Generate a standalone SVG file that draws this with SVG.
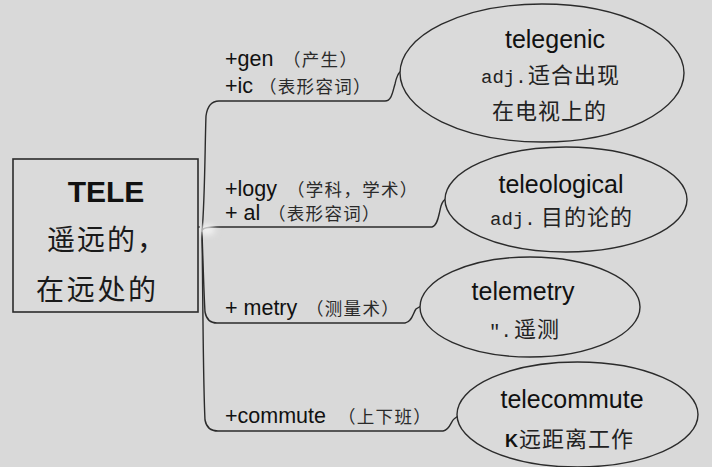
<svg xmlns="http://www.w3.org/2000/svg" width="712" height="467" viewBox="0 0 712 467">
  <style>
    .bg { fill: #d9d9d9; }
    .box { fill: #dadada; stroke: #2b2b2b; stroke-width: 1.6; }
    .ell { fill: #dadada; stroke: #2b2b2b; stroke-width: 1.4; }
    .con { fill: none; stroke: #2b2b2b; stroke-width: 1.4; }
    .en { font-family: "Liberation Sans", Arial, sans-serif; font-size: 21.5px; fill: #111; }
    .paren { font-family: "Noto Sans CJK SC", sans-serif; font-size: 17.5px; letter-spacing: 1.3px; fill: #2a2a2a; }
    .word { font-family: "Liberation Sans", Arial, sans-serif; font-size: 25px; fill: #111; text-anchor: middle; }
    .mono { font-family: "Liberation Mono", "Courier New", monospace; font-size: 19px; fill: #222; }
    .cn { font-family: "Noto Sans CJK SC", sans-serif; font-size: 22px; letter-spacing: 1px; fill: #222; }
    .big { font-family: "Noto Sans CJK SC", sans-serif; font-size: 28px; fill: #1a1a1a; }
  </style>
  <defs>
    <filter id="blur" x="-50%" y="-50%" width="200%" height="200%">
      <feGaussianBlur stdDeviation="3"/>
    </filter>
  </defs>
  <rect class="bg" x="0" y="0" width="712" height="467"/>

  <g id="connectors">
    <path class="con" d="M202,232 C205,200 205,140 206,116 Q208,101 219,101 H385 C392,101 393,90 395,84 Q397,74 401,71"/>
    <path class="con" d="M202,230 Q205,227 216,227 H432 C438,226 439,213 441,206 Q443,200 446,199"/>
    <path class="con" d="M202,232 C203,262 204,296 205,312 Q207,323 217,323 H405 C412,322 413,313 416,309 L421,306"/>
    <path class="con" d="M202,232 C203,300 203,380 205,420 Q207,431 218,431 H443 C450,430 451,421 454,419 L458,416"/>
    <path class="con" d="M200,227 H194 V253"/>
    <ellipse cx="207" cy="230" rx="8" ry="5" fill="#f4f4f4" filter="url(#blur)"/>
  </g>

  <g id="node-tele">
    <rect class="box" x="13" y="159" width="185" height="153"/>
    <text x="106" y="202" font-family="Liberation Sans, Arial, sans-serif" font-size="30" font-weight="bold" fill="#111" text-anchor="middle">TELE</text>
    <text class="big" x="47" y="250" letter-spacing="2">遥远的，</text>
    <text class="big" x="36" y="300" letter-spacing="2.7">在远处的</text>
  </g>

  <g id="label-gen-ic">
    <text class="en" x="225" y="66">+gen</text>
    <text class="paren" x="283" y="66">（产生）</text>
    <text class="en" x="225" y="93">+ic</text>
    <text class="paren" x="259" y="93">（表形容词）</text>
  </g>
  <g id="label-logy-al">
    <text class="en" x="225" y="196">+logy</text>
    <text class="paren" x="287" y="196">（学科，学术）</text>
    <text class="en" x="225" y="220">+ al</text>
    <text class="paren" x="268" y="220">（表形容词）</text>
  </g>
  <g id="label-metry">
    <text class="en" x="225" y="315">+ metry</text>
    <text class="paren" x="306" y="315">（测量术）</text>
  </g>
  <g id="label-commute">
    <text class="en" x="225" y="423">+commute</text>
    <text class="paren" x="338" y="423">（上下班）</text>
  </g>

  <g id="node-telegenic">
    <ellipse class="ell" cx="542" cy="73" rx="142" ry="69"/>
    <text class="word" x="555" y="48">telegenic</text>
    <text class="mono" x="481" y="83">adj.</text>
    <text class="cn" x="528" y="83">适合出现</text>
    <text class="cn" x="492" y="119" letter-spacing="1.4">在电视上的</text>
  </g>

  <g id="node-teleological">
    <ellipse class="ell" cx="566" cy="199.5" rx="121" ry="52.5"/>
    <text class="word" x="561" y="193">teleological</text>
    <text class="mono" x="490" y="225">adj.</text>
    <text class="cn" x="541" y="225" letter-spacing="0.5">目的论的</text>
  </g>

  <g id="node-telemetry">
    <ellipse class="ell" cx="530" cy="307" rx="110" ry="50"/>
    <text class="word" x="523" y="300">telemetry</text>
    <text class="mono" x="489" y="337">″.</text>
    <text class="cn" x="514" y="337" letter-spacing="0">遥测</text>
  </g>

  <g id="node-telecommute">
    <ellipse class="ell" cx="577.5" cy="414.5" rx="120.5" ry="52.5"/>
    <text class="word" x="572" y="408">telecommute</text>
    <text x="505" y="447" font-family="Liberation Sans, Arial, sans-serif" font-size="18" font-weight="bold" fill="#111">K</text>
    <text class="cn" x="519" y="447">远距离工作</text>
  </g>
</svg>
